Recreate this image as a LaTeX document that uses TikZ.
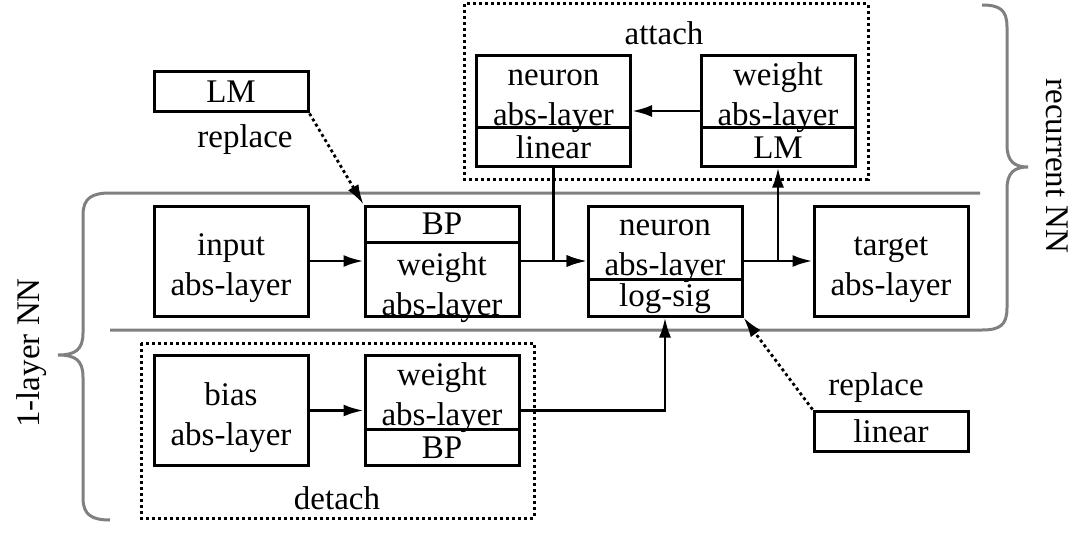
\documentclass[tikz,border=0pt]{standalone}
\usepackage{fontspec}
\setmainfont{Liberation Serif}
\usetikzlibrary{arrows.meta,positioning}
\newcommand{\twolines}[2]{\vphantom{b}#1\\#2}

\begin{document}
\begin{tikzpicture}[
  x=0.5pt,y=0.5pt,
  >={Latex[length=10pt,width=6pt]},
  font=\fontsize{16.5}{20}\selectfont,
  box/.style={draw, line width=1.5pt, minimum width=77pt, minimum height=55pt, inner sep=0pt},
  smallbox/.style={box, minimum height=20pt},
  part/.style={minimum width=77pt, inner sep=0pt, align=center},
  twoline/.style={part, yshift=-3.5pt},
  splitline/.style={line width=1.5pt},
  flow/.style={->, line width=1.4pt},
  replaceline/.style={->, line width=1.4pt, dash pattern=on 1.5pt off 1.5pt},
  opbox/.style={line width=1.5pt, dash pattern=on 1.5pt off 1.5pt},
  bracket/.style={draw=black!50, line width=1.5pt}
]
\path[use as bounding box] (0,0) rectangle (1089,537);

% Braces of the two nets
\draw[bracket] (982,532) .. controls (1000,532) and (1007,527) .. (1007,510)
  -- (1007,392) .. controls (1007,375) and (1015,370) .. (1028,370)
  .. controls (1015,370) and (1007,365) .. (1007,348)
  -- (1007,229) .. controls (1007,212) and (1000,207) .. (982,207) -- (110,207);
\draw[bracket] (980,344) -- (110,344) .. controls (92,344) and (83,339) .. (83,322)
  -- (83,204) .. controls (83,187) and (75,182) .. (58,182)
  .. controls (75,182) and (83,177) .. (83,160)
  -- (83,39) .. controls (83,22) and (92,17) .. (110,17);
\node[rotate=-90] (recurrent) at (1057,371) {recurrent NN};
\node[rotate=90] (onelayer) at (32,184) {1-layer NN};

% Main row
\node[box] (input) at (231,276) {};
\node[twoline] (input text) at (input) {\twolines{input}{abs-layer}};
\node[box] (bpw) at (442,276) {};
\node[part, minimum height=18.5pt, below=0pt of bpw.north] (bpw top) {BP};
\node[twoline, minimum height=36.5pt, above=0pt of bpw.south] (bpw low) {\twolines{weight}{abs-layer}};
\draw[splitline] (bpw top.south west) -- (bpw top.south east);
\node[box] (neu) at (665,276) {};
\node[twoline, minimum height=36pt, below=0pt of neu.north] (neu top) {\twolines{neuron}{abs-layer}};
\node[part, minimum height=18.5pt, above=0pt of neu.south] (neu low) {log-sig};
\draw[splitline] (neu low.north west) -- (neu low.north east);
\node[box] (target) at (891,276) {};
\node[twoline] (target text) at (target) {\twolines{target}{abs-layer}};

% Replace by LM
\node[smallbox] (lm) at (231,445) {LM};
\node (replace lm) at (245,397) {replace};

% Attach
\draw[opbox] (464,533) rectangle (868,358);
\node (attach) at (664,504) {attach};
\node[box] (attn) at (553.5,426) {};
\node[twoline, minimum height=35.5pt, below=0pt of attn.north] (attn top) {\twolines{neuron}{abs-layer}};
\node[part, minimum height=19.5pt, above=0pt of attn.south] (attn low) {linear};
\draw[splitline] (attn low.north west) -- (attn low.north east);
\node[box] (attw) at (778,426) {};
\node[twoline, minimum height=35.5pt, below=0pt of attw.north] (attw top) {\twolines{weight}{abs-layer}};
\node[part, minimum height=19.5pt, above=0pt of attw.south] (attw low) {LM};
\draw[splitline] (attw low.north west) -- (attw low.north east);

% Detach
\draw[opbox] (141,194) rectangle (534,19);
\node (detach) at (337,39) {detach};
\node[box] (bias) at (231,126.5) {};
\node[twoline] (bias text) at (bias) {\twolines{bias}{abs-layer}};
\node[box] (detw) at (442,126.5) {};
\node[twoline, minimum height=36.5pt, below=0pt of detw.north] (detw top) {\twolines{weight}{abs-layer}};
\node[part, minimum height=18.5pt, above=0pt of detw.south] (detw low) {BP};
\draw[splitline] (detw low.north west) -- (detw low.north east);

% Replace by linear
\node[smallbox] (lin) at (891,106) {linear};
\node (replace lin) at (876,149) {replace};

% Connectors
\draw[replaceline] (lm.south east) -- (bpw.north west);
\draw[flow] (input) -- (bpw);
\draw[flow] (bpw) -- (neu);
\draw[flow] (attn.south) |- (neu.west);
\draw[flow] (neu) -- (target);
\draw[flow] (neu.east) -| (attw.south);
\draw[flow] (attw) -- (attn);
\draw[flow] (bias) -- (detw);
\draw[flow] (detw.east) -| (neu.south);
\draw[replaceline] (lin.north west) -- (neu.south east);

\end{tikzpicture}
\end{document}
